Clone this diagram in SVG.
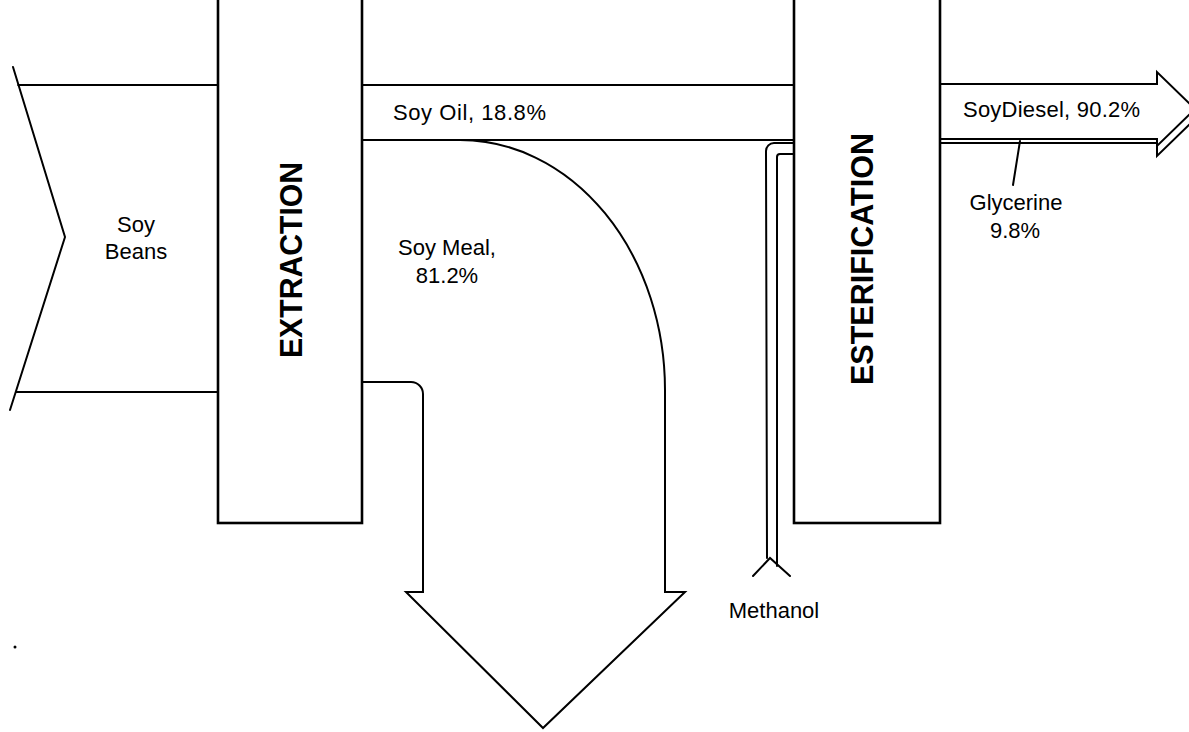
<svg xmlns="http://www.w3.org/2000/svg" width="1189" height="732" viewBox="0 0 1189 732">
<style>
.ln{fill:none;stroke:#000;stroke-width:2;stroke-linejoin:miter;stroke-linecap:round}
.box{fill:#fff;stroke:#000;stroke-width:2.6}
.lbl{font-family:"Liberation Sans",Arial,sans-serif;font-size:22px;fill:#000}
.big{font-family:"Liberation Sans",Arial,sans-serif;font-size:32px;font-weight:bold;fill:#000}
</style>
<rect width="1189" height="732" fill="#fff"/>
<g id="connectors">
  <path id="soybeans-in" class="ln" d="M13,67 L65,237 L10,410 M18,85 L218,85 M16,392 L218,392"/>
  <path id="soyoil" class="ln" d="M362,85 L794,85 M362,140 L794,140"/>
  <path id="soymeal" class="ln" d="M362,382 L411,382 A12,12 0 0 1 423,394 L423,592 L406,592 L543,728 L685,592 L665,592 L665,390 A205,250 0 0 0 460,140"/>
  <path id="methanol" class="ln" d="M794,143 L774,143 A8,8 0 0 0 766,151 L767,558 M794,154 L780,154 A3,3 0 0 0 777,157 L777,566 M753,576 L770,558 L790,576"/>
  <path id="soydiesel" class="ln" d="M940,84 L1157,84 L1157,72 L1192,106 M940,139 L1157,139 L1157,146 L1192,112"/>
  <path id="glycerine" class="ln" d="M940,143 L1157,143 L1157,156 L1192,122 M1020,141 L1013,185"/>
</g>
<g id="extraction">
  <rect class="box" x="218" y="-4" width="144" height="527"/>
  <text class="big" transform="translate(302,260) rotate(-90)" text-anchor="middle" textLength="196" lengthAdjust="spacingAndGlyphs">EXTRACTION</text>
</g>
<g id="esterification">
  <rect class="box" x="794" y="-4" width="146" height="527"/>
  <text class="big" transform="translate(873,259) rotate(-90)" text-anchor="middle" textLength="252" lengthAdjust="spacingAndGlyphs">ESTERIFICATION</text>
</g>
<g id="labels">
  <text class="lbl" x="136" y="232" text-anchor="middle">Soy</text>
  <text class="lbl" x="136" y="259" text-anchor="middle">Beans</text>
  <text class="lbl" x="393" y="120" textLength="153">Soy Oil, 18.8%</text>
  <text class="lbl" x="447" y="255" text-anchor="middle">Soy Meal,</text>
  <text class="lbl" x="447" y="283" text-anchor="middle">81.2%</text>
  <text class="lbl" x="963" y="117" textLength="177">SoyDiesel, 90.2%</text>
  <text class="lbl" x="1016" y="210" text-anchor="middle">Glycerine</text>
  <text class="lbl" x="1015" y="238" text-anchor="middle">9.8%</text>
  <text class="lbl" x="774" y="618" text-anchor="middle">Methanol</text>
</g>
<circle cx="15" cy="647" r="1.5" fill="#000"/>
</svg>
